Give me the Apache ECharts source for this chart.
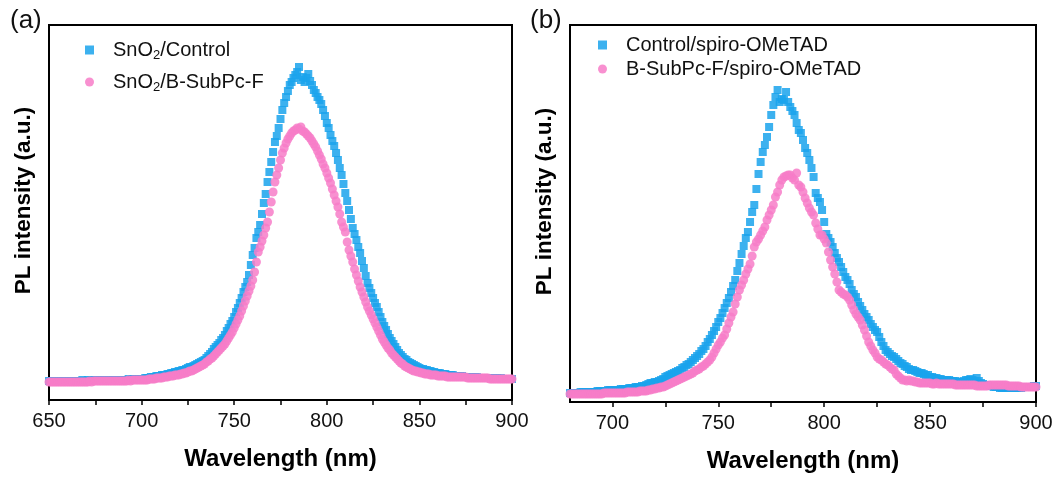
<!DOCTYPE html>
<html>
<head>
<meta charset="utf-8">
<script src="https://cdn.jsdelivr.net/npm/echarts/dist/echarts.min.js"></script>
<style>
html,body{margin:0;padding:0;background:#fff;}
#chart{width:1062px;height:479px;}
</style>
</head>
<body>
<div id="chart"></div>
<script>
// ---------- DATA ----------
// wavelength sampling (1 nm steps)
const leftRange = [650, 900];
const rightRange = [680, 900];

// Panel (a): PL intensity (a.u.)
const snO2Control = [
19,19,19,19,19,19,19,19,19,19,
19,19,19,19,19,19,19,19,20,19,
19,20,19,20,20,20,20,20,20,20,
20,20,20,20,20,20,20,20,20,20,
20,20,20,21,20,21,21,21,21,21,
21,21,22,22,22,23,23,23,24,24,
24,25,25,25,26,26,27,27,28,28,
29,29,30,30,31,32,33,33,34,35,
36,37,38,39,40,42,44,46,48,51,
53,55,57,60,62,65,69,72,76,79,
83,88,92,97,102,108,113,118,125,135,
145,152,162,168,175,186,197,206,218,228,
238,248,258,264,272,281,290,297,303,309,
315,318,322,325,328,333,320,323,318,322,
326,319,315,310,307,303,300,296,290,284,
277,272,265,259,254,247,240,232,225,216,
207,199,190,181,172,166,160,153,147,139,
132,124,117,112,107,102,97,93,88,83,
78,74,70,66,62,59,56,53,50,47,
45,43,41,40,38,37,36,35,34,33,
32,31,31,30,30,29,29,28,28,27,
27,27,26,26,26,25,25,25,25,24,
24,24,24,24,23,23,23,23,23,23,
23,23,22,22,22,22,22,22,22,22,
22,22,22,21,22,21,21,21,21,21,
21];
const snO2BSubPcF = [
18,18,18,18,18,18,18,18,18,18,
18,18,18,18,18,18,18,18,18,18,
18,18,19,18,19,19,19,19,19,19,
19,19,19,19,19,19,19,19,19,19,
19,19,19,20,19,20,20,20,20,20,
20,20,20,20,21,21,21,21,22,22,
22,22,23,23,23,24,24,24,25,25,
25,26,26,27,27,28,29,29,30,31,
32,33,34,35,36,38,39,41,42,44,
46,48,50,52,54,56,59,62,65,68,
72,76,80,84,89,94,99,104,109,114,
120,128,138,148,153,159,165,172,178,188,
198,208,218,225,232,240,247,252,257,261,
264,267,269,270,272,271,273,269,268,266,
264,262,259,256,253,249,245,241,236,232,
227,222,217,211,205,199,193,186,178,173,
168,158,150,144,138,131,125,119,113,108,
103,98,93,89,85,81,77,73,69,65,
61,58,55,52,50,47,45,43,41,39,
37,36,34,33,32,31,30,29,29,28,
28,27,27,26,26,26,25,25,25,25,
24,24,24,24,24,23,23,23,23,23,
23,23,23,23,23,23,22,22,22,22,
22,22,22,22,22,22,22,22,21,21,
21,21,21,21,21,21,21,21,21,21,
21];

// Panel (b): PL intensity (a.u.)
const controlSpiro = [
9,9,9,9,9,10,10,10,10,10,
10,10,10,11,11,11,11,11,12,12,
12,12,12,12,13,13,13,13,14,14,
14,15,15,15,16,16,17,18,19,19,
20,20,21,22,23,25,26,27,28,29,
30,31,32,34,35,37,38,40,42,44,
46,48,51,53,56,60,63,67,71,75,
80,84,89,94,99,104,110,116,122,131,
139,148,156,164,170,180,190,197,213,228,
240,250,257,265,275,287,297,305,312,300,
303,302,310,300,295,291,287,279,272,269,
262,254,249,242,234,225,209,204,200,192,
180,168,164,160,155,149,144,140,135,130,
125,122,118,112,108,105,100,96,92,88,
85,82,78,75,72,70,65,60,56,52,
50,48,46,45,43,41,39,38,36,35,
33,32,32,31,30,29,29,28,27,27,
25,25,24,24,23,23,22,22,22,22,
21,21,21,20,20,20,21,22,22,23,
22,21,24,21,19,18,17,17,16,16,
15,15,15,14,14,14,14,14,14,14,
14,14,14,14,15,15,15,15,15,16,
16];
const bSubPcFSpiro = [
8,8,8,8,8,8,8,8,8,8,
8,8,8,8,8,8,9,9,9,9,
9,9,9,9,9,9,9,10,10,10,
10,10,10,11,11,11,11,12,12,13,
13,14,14,15,15,16,17,18,19,20,
21,22,23,24,25,26,27,28,29,31,
32,33,35,36,38,40,42,45,49,53,
57,60,64,67,73,79,85,90,98,105,
112,117,122,128,133,138,146,155,160,163,
167,171,175,182,187,192,197,205,210,217,
222,225,226,227,227,224,222,229,217,215,
210,204,199,194,190,187,179,173,167,167,
163,159,150,142,135,128,120,112,110,108,
107,105,102,97,92,88,85,82,77,72,
66,60,56,52,49,45,43,42,40,38,
37,35,33,32,28,26,24,22,22,21,
22,21,21,20,20,19,19,19,19,19,
19,18,18,19,18,18,18,18,18,18,
18,18,17,17,17,17,17,17,17,17,
17,17,16,16,16,16,16,16,17,17,
17,17,17,17,17,17,17,16,16,16,
16,16,16,15,15,15,15,15,15,15,
15];

const leftTicks = [650,675,700,725,750,775,800,825,850,875,900];
const leftLabels = [650,700,750,800,850,900];
const rightTicks = [700,725,750,775,800,825,850,875,900];
const rightLabels = [700,750,800,850,900];

const namesA = ['SnO2/Control','SnO2/B-SubPc-F'];
const namesB = ['Control/spiro-OMeTAD','B-SubPc-F/spiro-OMeTAD'];

// ---------- BUILD ----------
function pairs(range, vals){
  const out=[];
  for(let i=0;i<vals.length;i++){ out.push([range[0]+i, vals[i]]); }
  return out;
}
const FONT = "'Liberation Sans', Arial, sans-serif";
const BLUE = '#1AA3EC';
const PINK = '#F77DC8';

function xAxisDef(grid, range, ticks, labels){
  return {
    type:'value', gridIndex:grid, min:range[0], max:range[1],
    name:'Wavelength (nm)', nameLocation:'middle', nameGap:47,
    nameTextStyle:{fontFamily:FONT,fontSize:24,fontWeight:'bold',color:'#000'},
    axisLine:{show:true,lineStyle:{color:'#000',width:2}},
    axisTick:{show:true,inside:false,length:5,lineStyle:{color:'#000',width:1.5},customValues:ticks},
    axisLabel:{show:true,margin:11,fontFamily:FONT,fontSize:20,color:'#111',customValues:labels},
    splitLine:{show:false}
  };
}
function yAxisDef(grid, max){
  return {
    type:'value', gridIndex:grid, min:0, max:max,
    name:'PL intensity (a.u.)', nameLocation:'middle', nameGap:14,
    nameTextStyle:{fontFamily:FONT,fontSize:22.5,fontWeight:'bold',color:'#000',padding:[0,0,0,24]},
    axisLine:{show:true,lineStyle:{color:'#000',width:2}},
    axisTick:{show:false}, axisLabel:{show:false}, splitLine:{show:false}
  };
}
function legendFormatter(name){
  if(name.indexOf('SnO2')===0){
    return '{sp|}{n|SnO}{s|2}{n|' + name.slice(4) + '}';
  }
  return '{sp|}{n|' + name + '}';
}
const legendRich = {
  sp:{width:14},
  n:{fontFamily:FONT,fontSize:20,color:'#111'},
  s:{fontFamily:FONT,fontSize:13,color:'#111',padding:[11,0,0,0]}
};

const option = {
  backgroundColor:'#fff',
  animation:false,
  grid:[
    {left:49, right:550, top:25, bottom:79, show:true, borderColor:'#000', borderWidth:2},
    {left:570, right:26, top:25, bottom:77, show:true, borderColor:'#000', borderWidth:2}
  ],
  xAxis:[ xAxisDef(0,leftRange,leftTicks,leftLabels), xAxisDef(1,rightRange,rightTicks,rightLabels) ],
  yAxis:[ yAxisDef(0,375), yAxisDef(1,377) ],
  legend:[
    {orient:'vertical', left:80, top:35, itemGap:10, itemWidth:9, itemHeight:9,
     data:[{name:namesA[0],icon:'rect'},{name:namesA[1],icon:'circle'}],
     formatter:legendFormatter, textStyle:{rich:legendRich}},
    {orient:'vertical', left:593, top:30, itemGap:4, itemWidth:9, itemHeight:9,
     data:[{name:namesB[0],icon:'rect'},{name:namesB[1],icon:'circle'}],
     formatter:legendFormatter, textStyle:{rich:legendRich}}
  ],
  graphic:[
    {type:'text', left:10, top:8, style:{text:'(a)', font:"26px 'Liberation Sans', Arial", fill:'#111'}},
    {type:'text', left:530, top:8, style:{text:'(b)', font:"26px 'Liberation Sans', Arial", fill:'#111'}}
  ],
  series:[
    {name:namesA[0], type:'scatter', xAxisIndex:0, yAxisIndex:0, symbol:'rect', symbolSize:8,
     itemStyle:{color:BLUE, opacity:0.85}, data:pairs(leftRange, snO2Control)},
    {name:namesA[1], type:'scatter', xAxisIndex:0, yAxisIndex:0, symbol:'circle', symbolSize:9,
     itemStyle:{color:PINK, opacity:0.85}, data:pairs(leftRange, snO2BSubPcF)},
    {name:namesB[0], type:'scatter', xAxisIndex:1, yAxisIndex:1, symbol:'rect', symbolSize:8,
     itemStyle:{color:BLUE, opacity:0.85}, data:pairs(rightRange, controlSpiro)},
    {name:namesB[1], type:'scatter', xAxisIndex:1, yAxisIndex:1, symbol:'circle', symbolSize:9,
     itemStyle:{color:PINK, opacity:0.85}, data:pairs(rightRange, bSubPcFSpiro)}
  ]
};
const chart = echarts.init(document.getElementById('chart'), null, {renderer:'canvas'});
chart.setOption(option);
</script>
</body>
</html>
